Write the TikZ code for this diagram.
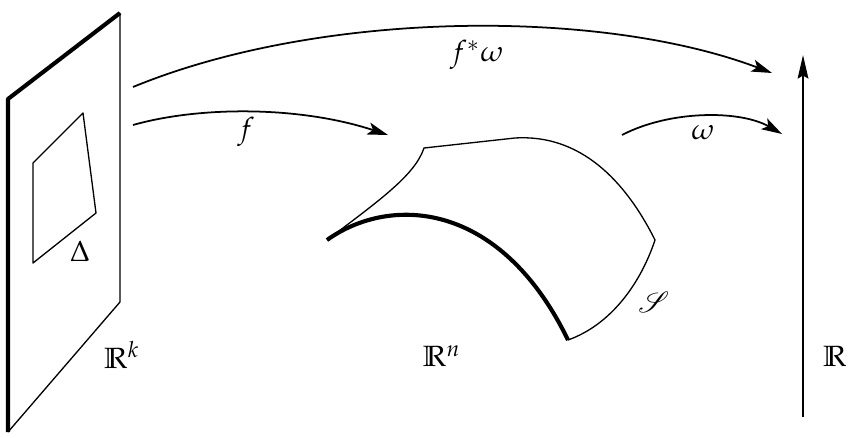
\documentclass[tikz,border=0pt]{standalone}
\usepackage{amssymb}
\usepackage{mathrsfs}
\usepackage{mathpazo}
\usetikzlibrary{arrows.meta}
\begin{document}
\begin{tikzpicture}[x=0.012cm, y=-0.012cm, line join=round,
    edge/.style={line width=0.45pt},
    bold/.style={line width=1.4pt},
    map/.style={line width=0.6pt, -{Stealth[length=7pt, width=4.2pt, inset=1.6pt]}},
    lab/.style={inner sep=1pt}]
\useasboundingbox (0,0) rectangle (849,437);
% plane R^k
\foreach \n/\x/\y in {1/8/99, 2/120/13, 3/120/302, 4/8/432}
    \coordinate (p\n) at (\x,\y);
\draw[edge] (p2) -- (p3) -- (p4);
\draw[bold] (p4) -- (p1) -- (p2);
% Delta
\foreach \n/\x/\y in {1/33/163, 2/83/113, 3/96/213, 4/33/263}
    \coordinate (q\n) at (\x,\y);
\draw[edge] (q1) -- (q2) -- (q3) -- (q4) -- cycle;
\node[lab] (delta) at (80,251) {$\Delta$};
\node[lab] (rk) at (122,355) {$\mathbb{R}^k$};
% surface S
\coordinate (s1) at (327,240);
\coordinate (s2) at (424,148);
\coordinate (s3) at (515,138);
\coordinate (s4) at (655,240);
\coordinate (s5) at (568,340);
\draw[edge] (s1) .. controls (380,200) and (415,175) .. (s2) -- (s3)
    .. controls (580,134) and (625,180) .. (s4)
    .. controls (640,285) and (610,325) .. (s5);
\draw[bold] (s1) .. controls (390,195) and (500,200) .. (s5);
\node[lab] (surf) at (654,302) {$\mathscr{S}$};
\node[lab] (rn) at (442,356) {$\mathbb{R}^n$};
% target R
\coordinate (r0) at (803,417);
\coordinate (r1) at (803,55);
\draw[line width=0.85pt, -{Stealth[length=8pt, width=3.6pt, inset=1pt]}] (r0) -- (r1);
\node[lab] (rr) at (835,356) {$\mathbb{R}$};
% maps
\coordinate (f0) at (133,125);
\coordinate (f1) at (388,135);
\draw[map] (f0) .. controls (200,106) and (300,106) .. (f1);
\node[lab] (flab) at (246,132) {$f$};
\coordinate (g0) at (133,87);
\coordinate (g1) at (772,73);
\draw[map] (g0) .. controls (320,10) and (600,8) .. (g1);
\node[lab] (glab) at (477,55) {$f^*\omega$};
\coordinate (w0) at (622,135);
\coordinate (w1) at (782,134);
\draw[map] (w0) .. controls (670,110) and (740,110) .. (w1);
\node[lab] (wlab) at (703,133) {$\omega$};
\end{tikzpicture}
\end{document}
